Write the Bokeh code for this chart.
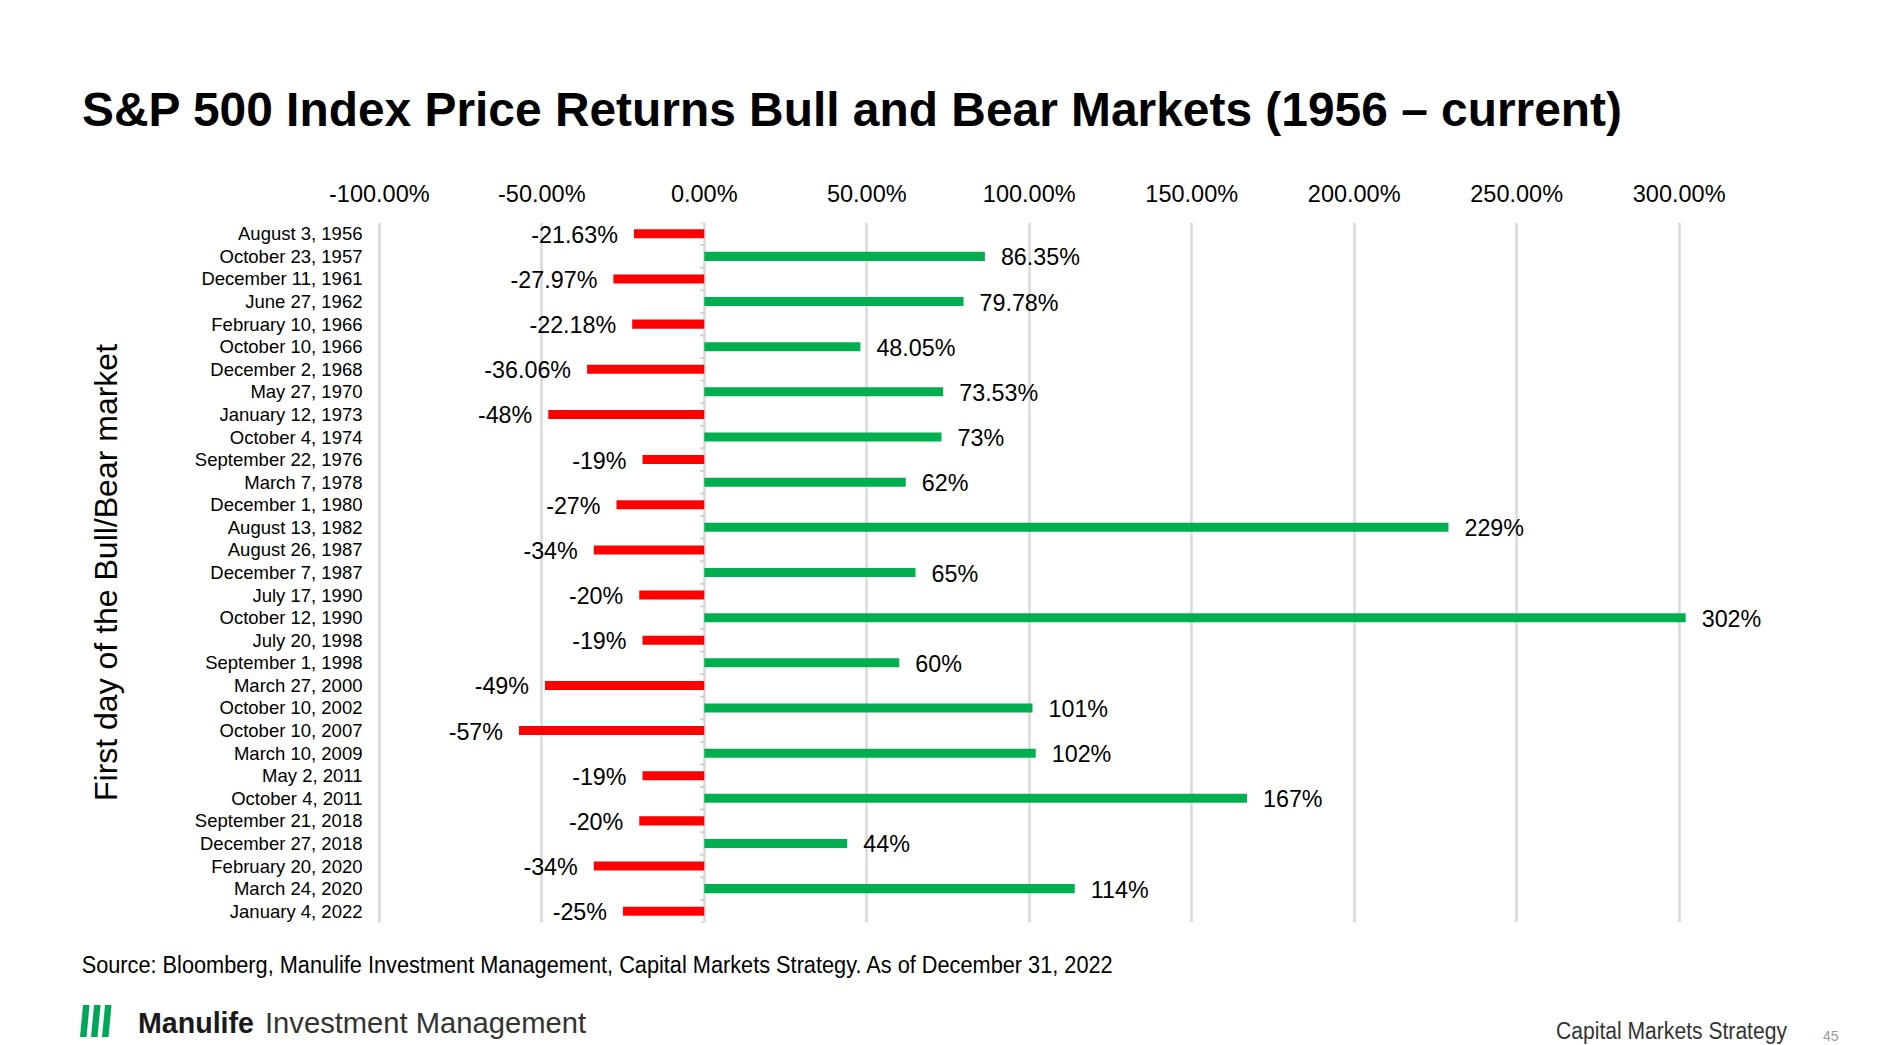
import html
from bokeh.plotting import figure
from bokeh.layouts import column
from bokeh.models import ColumnDataSource, Range1d, FixedTicker, PrintfTickFormatter, Div
from bokeh.embed import file_html
from bokeh.resources import INLINE
from bokeh.core.properties import value

# ---------------- data ----------------
dates = [
    "August 3, 1956", "October 23, 1957", "December 11, 1961", "June 27, 1962",
    "February 10, 1966", "October 10, 1966", "December 2, 1968", "May 27, 1970",
    "January 12, 1973", "October 4, 1974", "September 22, 1976", "March 7, 1978",
    "December 1, 1980", "August 13, 1982", "August 26, 1987", "December 7, 1987",
    "July 17, 1990", "October 12, 1990", "July 20, 1998", "September 1, 1998",
    "March 27, 2000", "October 10, 2002", "October 10, 2007", "March 10, 2009",
    "May 2, 2011", "October 4, 2011", "September 21, 2018", "December 27, 2018",
    "February 20, 2020", "March 24, 2020", "January 4, 2022",
]
returns = [
    -21.63, 86.35, -27.97, 79.78, -22.18, 48.05, -36.06, 73.53,
    -48, 73, -19, 62, -27, 229, -34, 65,
    -20, 302, -19, 60, -49, 101, -57, 102,
    -19, 167, -20, 44, -34, 114, -25,
]
return_labels = [
    "-21.63%", "86.35%", "-27.97%", "79.78%", "-22.18%", "48.05%", "-36.06%", "73.53%",
    "-48%", "73%", "-19%", "62%", "-27%", "229%", "-34%", "65%",
    "-20%", "302%", "-19%", "60%", "-49%", "101%", "-57%", "102%",
    "-19%", "167%", "-20%", "44%", "-34%", "114%", "-25%",
]
x_ticks = [-100, -50, 0, 50, 100, 150, 200, 250, 300]

title_text = "S&P 500 Index Price Returns Bull and Bear Markets (1956 \u2013 current)"
y_title = "First day of the Bull/Bear market"
source_text = ("Source: Bloomberg, Manulife Investment Management, Capital Markets Strategy. "
               "As of December 31, 2022")

# ---------------- layout constants (page pixels) ----------------
W = 1904
TOP_H = 170            # title strip
MAIN_H = 775           # chart
BOT_H = 100            # footer strip
FRAME_L, FRAME_R = 372, 1800
FRAME_T, FRAME_B = 222, 922
PXU = 3.2497           # pixels per percentage point
GRID_M100 = 378.8      # page x of the -100% gridline
x_start = -100 - (GRID_M100 - FRAME_L) / PXU
x_end = x_start + (FRAME_R - FRAME_L) / PXU
n = len(dates)

FONT = "Liberation Sans"


def svg_text(x, y, s, size, weight="normal", color="#000000", length=None, family=FONT):
    extra = ""
    if length is not None:
        extra = f' textLength="{length}" lengthAdjust="spacingAndGlyphs"'
    return (f'<text x="{x}" y="{y}" font-family="{family}" font-size="{size}px" '
            f'font-weight="{weight}" fill="{color}"{extra}>{html.escape(s)}</text>')


def strip(h, y0, body):
    svg = (f'<svg xmlns="http://www.w3.org/2000/svg" width="{W}" height="{h}" '
           f'viewBox="0 {y0} {W} {h}" style="display:block">{body}</svg>')
    return Div(text=svg, width=W, height=h, margin=0,
               styles={"overflow": "hidden", "background": "white"})


# ---------------- title strip ----------------
top = strip(TOP_H, 0, svg_text(82, 125.7, title_text, 47.5, weight="bold", length=1540))

# ---------------- main chart ----------------
p = figure(width=W, height=MAIN_H, output_backend="svg", toolbar_location=None,
           x_range=Range1d(x_start, x_end), y_range=Range1d(n - 0.5, -0.5),
           x_axis_location="above", y_axis_location="left",
           min_border_left=FRAME_L, min_border_right=W - FRAME_R,
           min_border_top=FRAME_T - TOP_H, min_border_bottom=TOP_H + MAIN_H - FRAME_B)
p.outline_line_color = None
p.background_fill_color = "white"
p.border_fill_color = "white"

xa = p.xaxis[0]
xa.ticker = FixedTicker(ticks=x_ticks)
xa.formatter = PrintfTickFormatter(format="%.2f%%")
xa.major_label_text_font = FONT
xa.major_label_text_font_size = "23.5px"
xa.major_label_text_color = "#000000"
xa.axis_line_color = None
xa.major_tick_line_color = None
xa.minor_tick_line_color = None
xa.major_label_standoff = 10

ya = p.yaxis[0]
ya.ticker = FixedTicker(ticks=list(range(n)))
ya.major_label_overrides = {i: d for i, d in enumerate(dates)}
ya.major_label_text_font = FONT
ya.major_label_text_font_size = "18.5px"
ya.major_label_text_color = "#000000"
ya.axis_line_color = None
ya.major_tick_line_color = None
ya.minor_tick_line_color = None
ya.major_label_standoff = 4
ya.axis_label = y_title
ya.axis_label_text_font = FONT
ya.axis_label_text_font_size = "32px"
ya.axis_label_text_font_style = "normal"
ya.axis_label_text_color = "#000000"
ya.axis_label_standoff = 68

p.xgrid.grid_line_color = "#D9D9D9"
p.xgrid.grid_line_width = 2.5
p.ygrid.visible = False

# small category ticks on the zero line
bounds = [i + 0.5 for i in range(-1, n)]
p.segment(x0=-1.3, x1=0, y0=bounds, y1=bounds, line_color="#D0D0D0", line_width=2)

colors = ["#00B050" if v > 0 else "#FF0000" for v in returns]
src = ColumnDataSource(dict(
    idx=list(range(n)), val=returns, lab=return_labels, color=colors,
    align=["left" if v > 0 else "right" for v in returns],
    xoff=[16 if v > 0 else -16 for v in returns],
))
p.hbar(y="idx", left=0, right="val", height=0.4, fill_color="color", line_color=None, source=src)
p.text(x="val", y="idx", text="lab", x_offset="xoff", y_offset=1, text_align="align",
       text_baseline="middle", text_font=value(FONT), text_font_size="23.3px",
       text_color="#000000", source=src)

# ---------------- footer strip ----------------
y0b = TOP_H + MAIN_H
parts = [svg_text(81.7, 972.7, source_text, 23.3, length=1031)]
for k in range(3):
    bx = 80 + 11 * k
    pts = f"{bx},1037 {bx + 6.5},1037 {bx + 9.5},1005 {bx + 3},1005"
    parts.append(f'<polygon points="{pts}" fill="#00A758"/>')
parts.append(svg_text(138, 1032.7, "Manulife", 30, weight="bold", color="#1a1a1a", length=116))
parts.append(svg_text(265, 1032.7, "Investment Management", 30, color="#333333", length=321))
parts.append(svg_text(1556, 1039, "Capital Markets Strategy", 23, color="#333333", length=231))
parts.append(svg_text(1823, 1041, "45", 14, color="#999999"))
bot = strip(BOT_H, y0b, "".join(parts))

layout = column(top, p, bot, spacing=0)
open("out.html", "w").write(file_html(layout, INLINE))
